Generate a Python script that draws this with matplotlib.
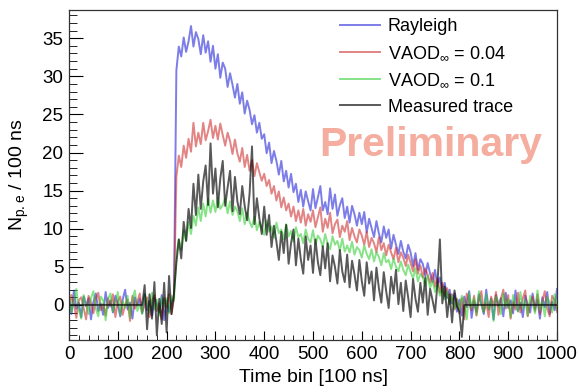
import numpy as np
import matplotlib
matplotlib.use("Agg")
import matplotlib.pyplot as plt
from matplotlib.ticker import MultipleLocator

plt.rcParams['font.family'] = ['Liberation Sans', 'DejaVu Sans']
plt.rcParams['mathtext.fontset'] = 'custom'
plt.rcParams['mathtext.rm'] = 'Liberation Sans'

# time bins, every 5 bins (100 ns each)
time_bins = np.arange(0, 1001, 5)

# Rayleigh simulation
rayleigh = [
    0.8, -1.2, 1.9, -0.5, 0.3, -1.6, 1.1, -0.2, 0.9, -1.9, 0.4, 1.5, -0.8, 0.2, -1.3, 1.7, -0.4, 0.6, -1.0, 1.2,
    0.1, -1.5, 0.7, 2.0, -0.6, 0.3, -1.8, 1.0, -0.1, 0.8, -1.1, 1.4, -0.7, 0.5, -1.4, 0.9, 0.2, -1.0, 1.3, -2.0,
    0.6, -0.9, 0.4, 1.0, 30.8, 33.9, 32.6, 35.1, 33.2, 34.6, 36.6, 33.9, 35.8, 34.9, 32.9, 35.4, 33.1, 34.6, 31.9, 34.0,
    31.0, 32.9, 29.8, 31.8, 31.0, 28.6, 30.4, 28.9, 27.2, 29.0, 26.4, 27.9, 25.1, 26.8, 25.6, 23.7, 24.9, 22.6, 23.9, 21.8,
    22.4, 19.9, 21.3, 18.6, 20.2, 18.9, 17.1, 18.9, 16.2, 17.6, 15.4, 17.2, 14.8, 15.9, 13.5, 15.1, 12.9, 14.9, 13.6, 12.4,
    15.2, 12.7, 14.1, 15.6, 12.4, 13.5, 11.9, 15.3, 12.6, 14.5, 11.7, 13.1, 14.0, 11.4, 12.9, 10.8, 13.0, 11.9, 10.4, 12.1,
    10.6, 12.2, 9.5, 11.3, 10.1, 8.9, 11.0, 9.4, 8.2, 10.3, 8.8, 9.9, 7.4, 9.2, 7.9, 6.7, 8.4, 7.0, 6.1, 7.9,
    6.9, 5.1, 6.8, 4.6, 6.0, 5.4, 3.8, 5.5, 4.1, 3.0, 4.6, 2.4, 3.6, 1.8, 2.9, 0.9, 2.0, 0.2, 1.5, -0.9,
    0.7, -1.4, 1.1, -0.3, 1.8, -1.7, 0.5, -0.9, 1.4, 0.1, -1.2, 2.0, -0.6, 0.8, -1.9, 1.3, -0.2, 0.9, -1.5, 1.6,
    -0.4, 0.6, -1.1, 1.9, -0.8, 0.3, -1.6, 1.2, 0.0, -1.0, 1.5, -0.5, 0.7, -1.8, 1.0, -0.3, 1.7, -1.2, 0.4, -0.7,
    2.1]

# VAOD = 0.04
vaod_004 = [
    -0.9, 1.3, 0.2, -1.7, 0.6, 1.0, -0.4, -1.9, 1.2, 0.3, -1.1, 0.8, 1.6, -0.7, 0.1, -1.4, 0.9, -0.2, 1.4, -1.6,
    0.5, 1.1, -1.3, 0.0, 0.7, -2.1, 1.2, -0.5, 0.4, 1.5, -0.9, -0.1, 1.0, -1.6, 0.6, 1.3, -0.8, 0.2, -1.9, 0.9,
    -0.3, 1.4, -1.2, 0.8, 16.8, 19.6, 18.1, 20.9, 19.3, 21.8, 20.1, 23.9, 20.8, 22.6, 21.1, 23.9, 21.6, 22.8, 24.3, 21.9,
    23.5, 21.7, 23.8, 22.3, 20.9, 22.6, 21.5, 19.8, 21.7, 19.9, 18.8, 20.6, 18.1, 19.7, 17.6, 19.0, 16.9, 18.6, 17.4, 16.3,
    17.2, 15.6, 16.4, 14.6, 15.6, 13.7, 14.9, 12.8, 14.1, 12.4, 13.3, 11.6, 12.9, 11.0, 12.4, 10.8, 12.6, 10.4, 11.9, 10.9,
    12.4, 10.2, 11.5, 12.8, 9.6, 11.3, 10.1, 12.1, 9.4, 10.6, 11.2, 8.9, 10.4, 9.6, 11.0, 8.5, 10.1, 9.0, 8.2, 9.9,
    9.1, 7.9, 9.6, 7.6, 8.8, 8.1, 6.9, 8.9, 7.2, 8.1, 6.5, 7.9, 6.9, 6.0, 7.5, 5.6, 6.9, 6.2, 5.1, 6.6,
    5.5, 4.4, 6.0, 4.1, 5.2, 3.6, 4.8, 3.9, 2.9, 4.2, 2.4, 3.5, 1.6, 2.9, 1.1, 2.2, 0.3, 1.4, -0.6, 0.8,
    -1.1, 0.9, -1.9, 1.5, 0.2, -0.7, 1.2, -1.4, 0.6, 1.8, -0.9, 0.3, -1.6, 1.1, -0.2, 1.7, -1.3, 0.8, 2.0, -0.5,
    1.3, -1.8, 0.4, -0.6, 1.6, -1.0, 0.9, 1.9, -1.5, 0.2, 1.1, -0.8, 1.4, -1.2, 0.5, 1.8, -0.4, -1.5, 1.2, 0.6,
    -0.9]

# VAOD = 0.1
vaod_01 = [
    1.6, -1.0, 0.4, 2.1, -0.6, -1.8, 1.3, 0.2, -1.2, 0.9, 1.8, -0.5, -1.5, 1.1, 0.6, -2.0, 0.8, 1.5, -0.9, 0.3,
    1.7, -1.3, 0.5, -0.4, 1.2, -1.7, 0.8, 1.9, -0.8, 0.1, -1.2, 1.4, 0.3, -1.0, 1.6, -0.6, 0.7, -1.4, 1.0, -0.2,
    0.9, -1.1, 1.2, 0.5, 6.6, 8.6, 7.2, 9.8, 8.4, 10.9, 9.3, 11.7, 10.4, 12.8, 11.0, 13.3, 11.6, 14.0, 12.1, 13.7,
    12.2, 14.1, 12.6, 13.1, 14.0, 12.0, 13.6, 11.8, 12.9, 12.3, 11.0, 12.7, 10.6, 12.1, 10.9, 10.2, 11.6, 9.8, 10.9, 10.1,
    9.2, 11.1, 9.6, 10.3, 8.8, 10.8, 9.4, 9.9, 8.6, 10.6, 9.0, 9.7, 8.3, 10.2, 8.9, 9.3, 8.1, 9.9, 8.7, 8.2,
    9.8, 7.9, 9.1, 8.6, 7.6, 9.3, 8.0, 7.3, 9.0, 7.9, 8.4, 7.1, 8.7, 7.0, 7.8, 6.9, 8.3, 6.6, 7.6, 7.2,
    6.2, 7.8, 6.7, 6.0, 7.3, 5.7, 6.9, 6.3, 5.2, 6.8, 5.6, 5.9, 4.7, 6.1, 5.0, 4.4, 5.7, 4.6, 3.9, 5.3,
    4.3, 3.5, 4.8, 3.1, 4.1, 3.6, 2.5, 3.9, 2.2, 3.2, 1.7, 2.8, 1.2, 2.3, 0.7, 1.8, 0.1, 1.2, -0.5, 0.7,
    -0.8, 1.2, 0.3, -1.9, 1.6, -0.4, 0.9, -1.3, 1.8, 0.1, -1.0, 1.4, -0.6, 0.7, -2.1, 1.1, 0.4, -1.2, 1.5, -0.3,
    0.8, -1.6, 1.3, 0.0, -0.9, 1.7, -0.5, 0.6, -1.4, 1.2, 0.2, -1.1, 1.9, -0.7, 0.5, -1.5, 1.0, 0.3, -1.0, 1.4,
    -0.6]

# measured trace (zero outside the recorded window)
measured = [
    0, 0, 0, 0, 0, 0, 0, 0, 0, 0, 0, 0, 0, 0, 0, 0, 0, 0, 0, 0,
    0, 0, 0, 0, 0, 0, 0, 0, 0, 0, 0, 2.6, -3.2, 1.4, -1.8, 3.0, -4.0, 0.8, -2.5, 2.9,
    -3.6, 3.8, -1.2, 1.5, 5.5, 8.6, 6.1, 10.9, 8.4, 12.6, 10.1, 15.9, 11.8, 17.1, 12.6, 16.2, 18.3, 13.1, 21.2, 14.6,
    17.9, 12.8, 16.6, 18.9, 13.0, 15.4, 17.6, 12.3, 16.8, 13.6, 11.9, 15.6, 13.0, 11.1, 14.6, 20.8, 10.6, 14.0, 11.4, 9.3,
    12.9, 9.2, 11.8, 7.6, 10.4, 8.3, 5.9, 9.6, 6.8, 10.5, 5.4, 8.1, 9.9, 5.2, 8.7, 6.0, 4.1, 9.0, 5.9, 7.8,
    4.2, 8.6, 5.6, 3.9, 7.7, 4.8, 8.1, 3.1, 6.5, 5.0, 2.8, 7.2, 4.4, 3.0, 6.6, 2.3, 5.8, 4.0, 1.9, 5.9,
    3.1, 1.2, 5.6, 2.8, 4.4, 0.6, 4.9, 2.2, 0.3, 4.3, 1.8, -0.4, 3.7, 1.5, 4.6, 0.1, 2.9, -0.8, 3.2, 1.0,
    -1.6, 3.4, 0.8, -0.9, 2.9, 0.3, 3.6, -1.3, 2.1, 0.6, -1.0, 2.7, 8.6, 0.2, 2.4, -1.6, 1.4, -2.3, 1.9, -0.2,
    -0.9, -4.2, 0, 0, 0, 0, 0, 0, 0, 0, 0, 0, 0, 0, 0, 0, 0, 0, 0, 0,
    0, 0, 0, 0, 0, 0, 0, 0, 0, 0, 0, 0, 0, 0, 0, 0, 0, 0, 0, 0,
    0]

fig = plt.figure(figsize=(5.79, 3.92), dpi=100)
ax = fig.add_axes([0.1192, 0.1327, 0.8428, 0.8418])

ax.plot(time_bins, rayleigh, color=(0.15, 0.15, 0.85), alpha=0.6, lw=1.4, label='Rayleigh')
ax.plot(time_bins, vaod_004, color=(0.8, 0.12, 0.12), alpha=0.55, lw=1.4,
        label=r'VAOD$_{\infty}$ = 0.04')
ax.plot(time_bins, vaod_01, color=(0.15, 0.8, 0.15), alpha=0.55, lw=1.4,
        label=r'VAOD$_{\infty}$ = 0.1')
ax.plot(time_bins, measured, color='black', alpha=0.65, lw=1.4, label='Measured trace')

ax.set_xlim(0, 1000)
ax.set_ylim(-4.6, 38.7)
ax.xaxis.set_major_locator(MultipleLocator(100))
ax.xaxis.set_minor_locator(MultipleLocator(20))
ax.yaxis.set_major_locator(MultipleLocator(5))
ax.yaxis.set_minor_locator(MultipleLocator(1))
ax.tick_params(which='both', direction='in', labelsize=13.5, top=False, right=False)
ax.tick_params(axis='y', which='major', length=10, pad=4)
ax.tick_params(axis='y', which='minor', length=5.5)
ax.tick_params(axis='x', which='major', length=6.5, pad=4.5)
ax.tick_params(axis='x', which='minor', length=3.6)
for s in ax.spines.values():
    s.set_linewidth(0.9)
    s.set_color('#333333')

ax.set_xlabel('Time bin [100 ns]', fontsize=14, labelpad=4)
ax.set_ylabel(r'N$_{\mathregular{p{.}e}}$ / 100 ns', fontsize=14, labelpad=8)

ax.legend(loc='upper left', bbox_to_anchor=(0.555, 0.975), frameon=False, fontsize=13,
          handlelength=2.2, handletextpad=0.45, labelspacing=0.52,
          borderpad=0, borderaxespad=0)

ax.text(0.969, 0.591, 'Preliminary', transform=ax.transAxes, ha='right', va='center',
        fontsize=29.5, fontweight='bold', color='#f4ad9e')

fig.savefig('out.png', dpi=100)
